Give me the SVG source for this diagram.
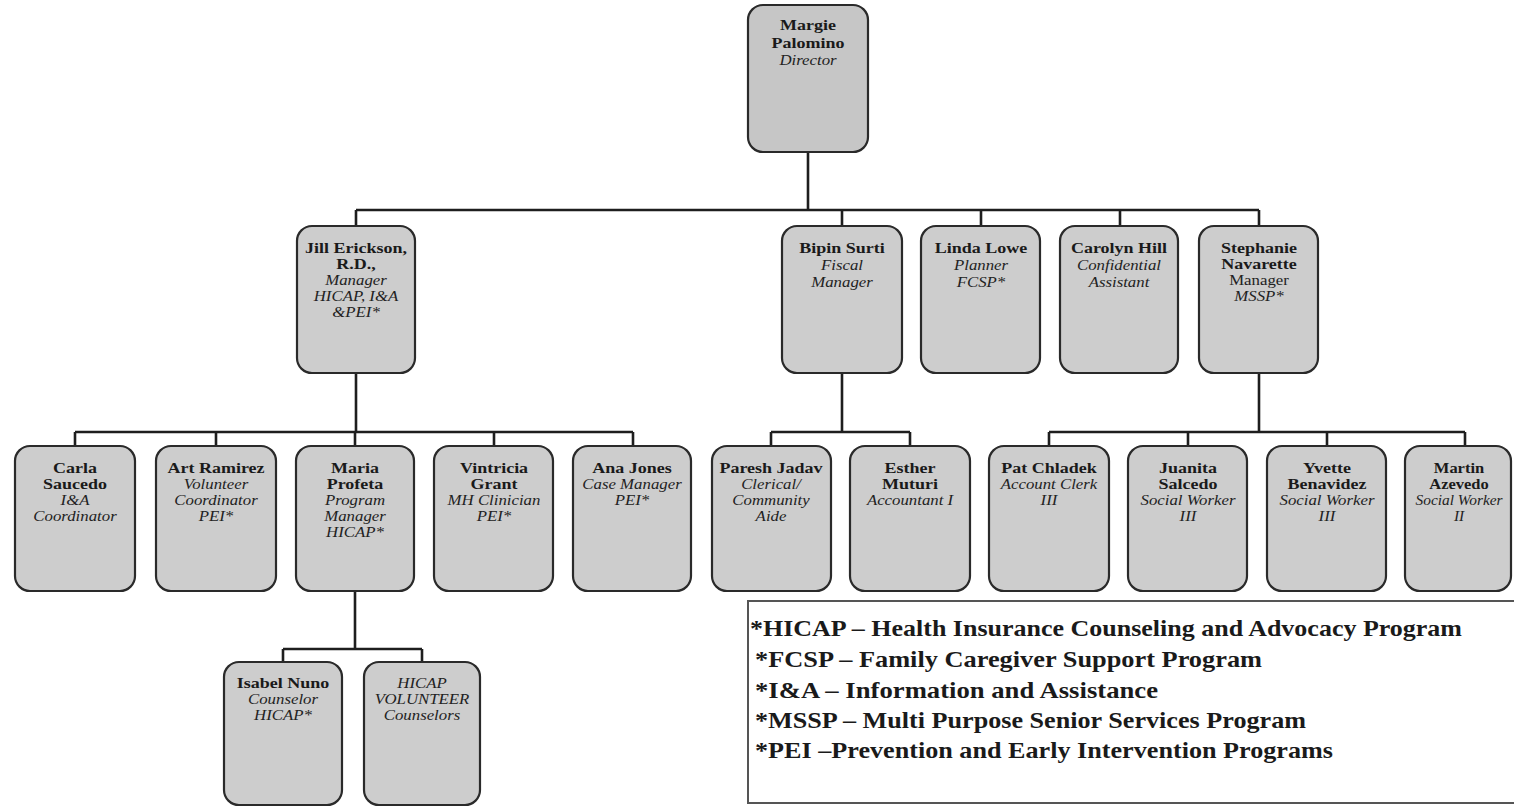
<svg xmlns="http://www.w3.org/2000/svg" width="1514" height="807" viewBox="0 0 1514 807">
<style>
.box{fill:#cdcdcd;stroke:#2a2a2a;stroke-width:2.2}
.conn{stroke:#1e1e1e;stroke-width:2.6;fill:none}
.nm{font-family:"Liberation Serif","Times New Roman",serif;font-size:15px;font-weight:bold;fill:#1a1a1a;text-anchor:middle}
.rl{font-family:"Liberation Serif","Times New Roman",serif;font-size:14px;font-style:italic;fill:#222;text-anchor:middle}
.rg{font-family:"Liberation Serif","Times New Roman",serif;font-size:14px;fill:#222;text-anchor:middle}
.lg{font-family:"Liberation Serif","Times New Roman",serif;font-size:23px;font-weight:bold;fill:#1a1a1a}
.lgline{stroke:#555;stroke-width:2;fill:none}
</style>
<rect width="1514" height="807" fill="#ffffff"/>

<g id="connectors">
<path class="conn" d="M808 152V210M356 210H1259M356 210V226M842 210V226M981 210V226M1120 210V226M1259 210V226"/>
<path class="conn" d="M356 373V432M75 432H633M75 432V446M216 432V446M355 432V446M494 432V446M633 432V446"/>
<path class="conn" d="M842 373V432M771 432H910M771 432V446M910 432V446"/>
<path class="conn" d="M1259 373V432M1049 432H1465M1049 432V446M1188 432V446M1327 432V446M1465 432V446"/>
<path class="conn" d="M355 591V649M283 649H422M283 649V662M422 649V662"/>
</g>

<g id="director">
<rect class="box" x="748" y="5" width="120" height="147" rx="15" style="fill:#c6c6c6"/>
<g transform="translate(808,0) scale(1.2,1)">
<text class="nm" x="0" y="30">Margie</text>
<text class="nm" x="0" y="48">Palomino</text>
<text class="rl" x="0" y="65">Director</text>
</g>
</g>

<g id="jill">
<rect class="box" x="297" y="226" width="118" height="147" rx="15"/>
<g transform="translate(356,0) scale(1.2,1)">
<text class="nm" x="0" y="253">Jill Erickson,</text>
<text class="nm" x="0" y="269">R.D.,</text>
<text class="rl" x="0" y="285">Manager</text>
<text class="rl" x="0" y="301">HICAP, I&amp;A</text>
<text class="rl" x="0" y="317">&amp;PEI*</text>
</g>
</g>

<g id="bipin">
<rect class="box" x="782" y="226" width="120" height="147" rx="15"/>
<g transform="translate(842,0) scale(1.2,1)">
<text class="nm" x="0" y="253">Bipin Surti</text>
<text class="rl" x="0" y="270">Fiscal</text>
<text class="rl" x="0" y="287">Manager</text>
</g>
</g>

<g id="linda">
<rect class="box" x="921" y="226" width="119" height="147" rx="15"/>
<g transform="translate(981,0) scale(1.2,1)">
<text class="nm" x="0" y="253">Linda Lowe</text>
<text class="rl" x="0" y="270">Planner</text>
<text class="rl" x="0" y="287">FCSP*</text>
</g>
</g>

<g id="carolyn">
<rect class="box" x="1060" y="226" width="118" height="147" rx="15"/>
<g transform="translate(1119,0) scale(1.2,1)">
<text class="nm" x="0" y="253">Carolyn Hill</text>
<text class="rl" x="0" y="270">Confidential</text>
<text class="rl" x="0" y="287">Assistant</text>
</g>
</g>

<g id="stephanie">
<rect class="box" x="1199" y="226" width="119" height="147" rx="15"/>
<g transform="translate(1259,0) scale(1.2,1)">
<text class="nm" x="0" y="253">Stephanie</text>
<text class="nm" x="0" y="269">Navarette</text>
<text class="rg" x="0" y="285">Manager</text>
<text class="rl" x="0" y="301">MSSP*</text>
</g>
</g>

<g id="carla">
<rect class="box" x="15" y="446" width="120" height="145" rx="15"/>
<g transform="translate(75,0) scale(1.2,1)">
<text class="nm" x="0" y="473">Carla</text>
<text class="nm" x="0" y="489">Saucedo</text>
<text class="rl" x="0" y="505">I&amp;A</text>
<text class="rl" x="0" y="521">Coordinator</text>
</g>
</g>

<g id="art">
<rect class="box" x="156" y="446" width="120" height="145" rx="15"/>
<g transform="translate(216,0) scale(1.2,1)">
<text class="nm" x="0" y="473">Art Ramirez</text>
<text class="rl" x="0" y="489">Volunteer</text>
<text class="rl" x="0" y="505">Coordinator</text>
<text class="rl" x="0" y="521">PEI*</text>
</g>
</g>

<g id="maria">
<rect class="box" x="296" y="446" width="118" height="145" rx="15"/>
<g transform="translate(355,0) scale(1.2,1)">
<text class="nm" x="0" y="473">Maria</text>
<text class="nm" x="0" y="489">Profeta</text>
<text class="rl" x="0" y="505">Program</text>
<text class="rl" x="0" y="521">Manager</text>
<text class="rl" x="0" y="537">HICAP*</text>
</g>
</g>

<g id="vintricia">
<rect class="box" x="434" y="446" width="119" height="145" rx="15"/>
<g transform="translate(494,0) scale(1.2,1)">
<text class="nm" x="0" y="473">Vintricia</text>
<text class="nm" x="0" y="489">Grant</text>
<text class="rl" x="0" y="505">MH Clinician</text>
<text class="rl" x="0" y="521">PEI*</text>
</g>
</g>

<g id="ana">
<rect class="box" x="573" y="446" width="118" height="145" rx="15"/>
<g transform="translate(632,0) scale(1.2,1)">
<text class="nm" x="0" y="473">Ana Jones</text>
<text class="rl" x="0" y="489">Case Manager</text>
<text class="rl" x="0" y="505">PEI*</text>
</g>
</g>

<g id="paresh">
<rect class="box" x="712" y="446" width="119" height="145" rx="15"/>
<g transform="translate(771,0) scale(1.2,1)">
<text class="nm" x="0" y="473">Paresh Jadav</text>
<text class="rl" x="0" y="489">Clerical/</text>
<text class="rl" x="0" y="505">Community</text>
<text class="rl" x="0" y="521">Aide</text>
</g>
</g>

<g id="esther">
<rect class="box" x="850" y="446" width="120" height="145" rx="15"/>
<g transform="translate(910,0) scale(1.2,1)">
<text class="nm" x="0" y="473">Esther</text>
<text class="nm" x="0" y="489">Muturi</text>
<text class="rl" x="0" y="505">Accountant I</text>
</g>
</g>

<g id="pat">
<rect class="box" x="989" y="446" width="120" height="145" rx="15"/>
<g transform="translate(1049,0) scale(1.2,1)">
<text class="nm" x="0" y="473">Pat Chladek</text>
<text class="rl" x="0" y="489">Account Clerk</text>
<text class="rl" x="0" y="505">III</text>
</g>
</g>

<g id="juanita">
<rect class="box" x="1128" y="446" width="119" height="145" rx="15"/>
<g transform="translate(1188,0) scale(1.2,1)">
<text class="nm" x="0" y="473">Juanita</text>
<text class="nm" x="0" y="489">Salcedo</text>
<text class="rl" x="0" y="505">Social Worker</text>
<text class="rl" x="0" y="521">III</text>
</g>
</g>

<g id="yvette">
<rect class="box" x="1267" y="446" width="119" height="145" rx="15"/>
<g transform="translate(1327,0) scale(1.2,1)">
<text class="nm" x="0" y="473">Yvette</text>
<text class="nm" x="0" y="489">Benavidez</text>
<text class="rl" x="0" y="505">Social Worker</text>
<text class="rl" x="0" y="521">III</text>
</g>
</g>

<g id="martin">
<rect class="box" x="1405" y="446" width="106" height="145" rx="15"/>
<g transform="translate(1459,0) scale(1.1,1)">
<text class="nm" x="0" y="473">Martin</text>
<text class="nm" x="0" y="489">Azevedo</text>
<text class="rl" x="0" y="505">Social Worker</text>
<text class="rl" x="0" y="521">II</text>
</g>
</g>

<g id="isabel">
<rect class="box" x="224" y="662" width="118" height="143" rx="15"/>
<g transform="translate(283,0) scale(1.2,1)">
<text class="nm" x="0" y="688">Isabel Nuno</text>
<text class="rl" x="0" y="704">Counselor</text>
<text class="rl" x="0" y="720">HICAP*</text>
</g>
</g>

<g id="hicap-volunteer">
<rect class="box" x="364" y="662" width="116" height="143" rx="15"/>
<g transform="translate(422,0) scale(1.2,1)">
<text class="rl" x="0" y="688">HICAP</text>
<text class="rl" x="0" y="704">VOLUNTEER</text>
<text class="rl" x="0" y="720">Counselors</text>
</g>
</g>

<g id="legend">
<path class="lgline" d="M1514 601H748V803H1514"/>
<text class="lg" x="750" y="636" textLength="712" lengthAdjust="spacingAndGlyphs">*HICAP – Health Insurance Counseling and Advocacy Program</text>
<text class="lg" x="755" y="667" textLength="507" lengthAdjust="spacingAndGlyphs">*FCSP – Family Caregiver Support Program</text>
<text class="lg" x="755" y="698" textLength="403" lengthAdjust="spacingAndGlyphs">*I&amp;A – Information and Assistance</text>
<text class="lg" x="755" y="728" textLength="551" lengthAdjust="spacingAndGlyphs">*MSSP – Multi Purpose Senior Services Program</text>
<text class="lg" x="755" y="758" textLength="578" lengthAdjust="spacingAndGlyphs">*PEI –Prevention and Early Intervention Programs</text>
</g>
</svg>
